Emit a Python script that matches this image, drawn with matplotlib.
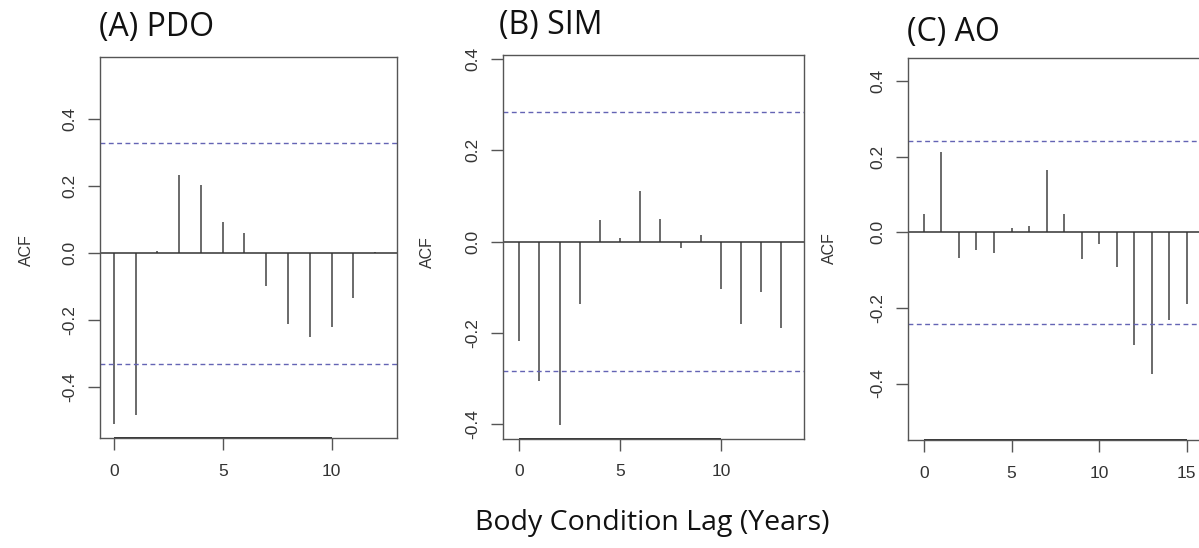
import matplotlib
matplotlib.use("Agg")
import matplotlib.pyplot as plt

# ── data ──────────────────────────────────────────────────────────────────────
pdo_lag = list(range(0, 13))
pdo_acf = [-0.508, -0.482, 0.006, 0.233, 0.204, 0.095, 0.060,
           -0.098, -0.210, -0.251, -0.220, -0.134, 0.003]
pdo_ci = 0.330

sim_lag = list(range(0, 14))
sim_acf = [-0.218, -0.305, -0.402, -0.136, 0.047, 0.008, 0.110,
           0.050, -0.014, 0.015, -0.103, -0.180, -0.110, -0.190]
sim_ci = 0.283

ao_lag = list(range(0, 16))
ao_acf = [0.047, 0.211, -0.067, -0.046, -0.055, 0.011, 0.017, 0.165,
          0.047, -0.071, -0.030, -0.093, -0.298, -0.376, -0.233, -0.191]
ao_ci = 0.242

titles = ["(A) PDO", "(B) SIM", "(C) AO"]
x_label = "Body Condition Lag (Years)"
y_label = "ACF"
y_ticks = [-0.4, -0.2, 0.0, 0.2, 0.4]

# ── styling ───────────────────────────────────────────────────────────────────
W, H = 1199, 548
C_STEM = "#6a6a6a"
C_CI = "#6464b4"
TICK_FONT = "Liberation Sans"
TITLE_FONT = ["Open Sans", "DejaVu Sans"]

panels = [
    # lags, acf, ci, box (left, top, right, bottom) px, xlim, ylim, xticks,
    # title (x, baseline y) px, ACF label (x, y) px
    (pdo_lag, pdo_acf, pdo_ci, (100, 56.7, 397, 438.3), (-0.63, 13.0), (-0.552, 0.587),
     [0, 5, 10], (99, 36), (26, 250)),
    (sim_lag, sim_acf, sim_ci, (503, 55, 804, 438.6), (-0.81, 14.12), (-0.431, 0.408),
     [0, 5, 10], (499, 34), (427, 252)),
    (ao_lag, ao_acf, ao_ci, (908, 57.8, 1213, 440.3), (-0.91, 16.5), (-0.550, 0.461),
     [0, 5, 10, 15], (907, 41), (829, 248)),
]

fig = plt.figure(figsize=(W / 100, H / 100), dpi=100)

for (lags, acf, ci, box, xlim, ylim, xticks, tpos, ypos), title in zip(panels, titles):
    l, t, r, b = box
    ax = fig.add_axes([l / W, 1 - b / H, (r - l) / W, (b - t) / H])
    ax.vlines(lags, 0, acf, color=C_STEM, lw=1.4)
    ax.axhline(0, color="#333333", lw=1.1)
    ax.axhline(ci, color=C_CI, lw=1.0, ls=(0, (3.5, 2.5)))
    ax.axhline(-ci, color=C_CI, lw=1.0, ls=(0, (3.5, 2.5)))
    ax.set_xlim(*xlim)
    ax.set_ylim(*ylim)
    ax.set_xticks(xticks)
    ax.set_yticks(y_ticks)
    ax.set_yticklabels([f"{v:.1f}" for v in y_ticks], rotation=90, va="center")
    ax.tick_params(axis="both", direction="out", length=8.5, width=1.0,
                   color="#555555", labelsize=12.5, labelcolor="#333333")
    ax.tick_params(axis="x", pad=10)
    ax.tick_params(axis="y", pad=8)
    for lab in ax.get_xticklabels() + ax.get_yticklabels():
        lab.set_fontfamily(TICK_FONT)
    for sp in ax.spines.values():
        sp.set_color("#555555")
        sp.set_linewidth(1.0)

    # R-style axis line spanning first..last tick
    ax.plot([xticks[0], xticks[-1]], [ylim[0], ylim[0]], color="#333333", lw=1.4,
            clip_on=False, solid_capstyle="butt")

    fig.text(tpos[0] / W, 1 - tpos[1] / H, title, fontsize=23, family=TITLE_FONT,
             ha="left", va="baseline", color="#111111")
    fig.text(ypos[0] / W, 1 - ypos[1] / H, y_label, fontsize=11.5, family=TICK_FONT,
             rotation=90, ha="center", va="center", color="#333333")

fig.text(652 / W, 1 - 530 / H, x_label, fontsize=20.5, family=TITLE_FONT,
         ha="center", va="baseline", color="#111111")

fig.savefig("out.png", dpi=100)
